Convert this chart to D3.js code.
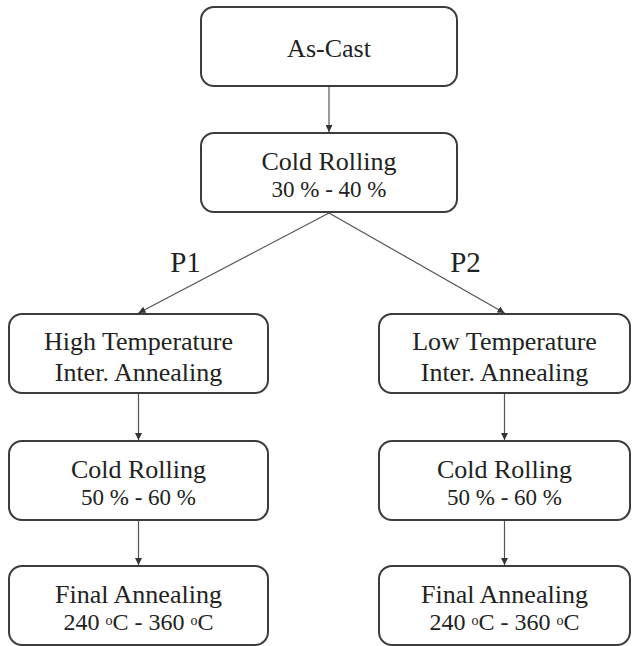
<!DOCTYPE html>
<html>
<head>
<meta charset="utf-8">
<script src="https://cdn.jsdelivr.net/npm/d3@7/dist/d3.min.js"></script>
<style>
  body { margin: 0; background: #fff; }
  svg { display: block; }
</style>
</head>
<body>
<div class="container"></div>
<script>
// svg dimensions
const width = 632;
const height = 646;
const fontName = '"Liberation Serif"';

// flow chart content
const nodeIds = ['cast', 'cr1', 'hta', 'cr2a', 'fa_a', 'lta', 'cr2b', 'fa_b'];
const nodeCols = ['mid', 'mid', 'left', 'left', 'left', 'right', 'right', 'right'];
const nodeRows = [0, 1, 2, 3, 4, 2, 3, 4];
const nodeLines = [
  ['As-Cast'],
  ['Cold Rolling', '30 % - 40 %'],
  ['High Temperature', 'Inter. Annealing'],
  ['Cold Rolling', '50 % - 60 %'],
  ['Final Annealing', '240 \u00baC - 360 \u00baC'],
  ['Low Temperature', 'Inter. Annealing'],
  ['Cold Rolling', '50 % - 60 %'],
  ['Final Annealing', '240 \u00baC - 360 \u00baC']
];
const linkFrom = ['cast', 'cr1', 'cr1', 'hta', 'cr2a', 'lta', 'cr2b'];
const linkTo   = ['cr1', 'hta', 'lta', 'cr2a', 'fa_a', 'cr2b', 'fa_b'];
const pathLabels = ['P1', 'P2'];
const pathCols = ['left', 'right'];

const boxH = 79;

// layout scales
const xScale = d3.scaleOrdinal().domain(['left', 'mid', 'right']).range([138.5, 329, 504.5]);
const wScale = d3.scaleOrdinal().domain(['left', 'mid', 'right']).range([259, 256, 251]);
const yScale = d3.scaleOrdinal().domain([0, 1, 2, 3, 4]).range([7, 133, 314, 441, 566]);

const nodes = nodeIds.map((id, i) => ({
  id: id,
  cx: xScale(nodeCols[i]),
  w: wScale(nodeCols[i]),
  y: yScale(nodeRows[i]),
  lines: nodeLines[i]
}));
const byId = {};
nodes.forEach(n => { byId[n.id] = n; });

const svg = d3.select('.container')
  .append('svg')
  .attr('width', width)
  .attr('height', height);

svg.append('defs').append('marker')
  .attr('id', 'arrow')
  .attr('viewBox', '0 0 10 10')
  .attr('refX', 10)
  .attr('refY', 5)
  .attr('markerWidth', 7)
  .attr('markerHeight', 7)
  .attr('markerUnits', 'userSpaceOnUse')
  .attr('orient', 'auto')
  .append('path')
  .attr('d', 'M0,0 L10,5 L0,10 z')
  .attr('fill', '#333');

// connectors
svg.selectAll('line.link')
  .data(linkFrom.map((f, i) => ({ s: byId[f], t: byId[linkTo[i]] })))
  .enter()
  .append('line')
  .attr('class', 'link')
  .attr('x1', d => d.s.cx)
  .attr('y1', d => d.s.y + boxH + 1)
  .attr('x2', d => d.t.cx)
  .attr('y2', d => d.t.y - 1)
  .attr('stroke', '#555')
  .attr('stroke-width', 1.2)
  .attr('marker-end', 'url(#arrow)');

// P1 / P2 labels
svg.selectAll('text.plabel')
  .data(pathLabels)
  .enter()
  .append('text')
  .attr('class', 'plabel')
  .attr('x', (d, i) => xScale(pathCols[i]) + (i === 0 ? 47 : -39))
  .attr('y', 272)
  .attr('text-anchor', 'middle')
  .attr('font-size', 29)
  .style('font-family', fontName)
  .attr('fill', '#222')
  .text(d => d);

// boxes
const box = svg.selectAll('g.node')
  .data(nodes)
  .enter()
  .append('g')
  .attr('class', 'node');

box.append('rect')
  .attr('x', d => d.cx - d.w / 2)
  .attr('y', d => d.y)
  .attr('width', d => d.w)
  .attr('height', boxH)
  .attr('rx', 13)
  .attr('ry', 13)
  .attr('fill', '#fff')
  .attr('stroke', '#3c3c3c')
  .attr('stroke-width', 2);

box.each(function(d) {
  const g = d3.select(this);
  const midY = d.y + boxH / 2;
  const two = d.lines.length > 1;
  // second line with numbers is set a bit smaller
  const numeric = two && /\d/.test(d.lines[1]);
  const isTemp = two && d.lines[1].indexOf('\u00ba') >= 0;
  d.lines.forEach((line, k) => {
    const t = g.append('text')
      .attr('x', d.cx)
      .attr('text-anchor', 'middle')
      .style('font-family', fontName)
      .attr('fill', '#222');
    if (!two) {
      t.attr('y', midY + 10).attr('font-size', 26).text(line);
      return;
    }
    let size = 26, y;
    if (k === 0) {
      y = numeric ? midY - 3 : midY - 3.5;
    } else {
      size = numeric ? (isTemp ? 24 : 23) : 26;
      y = numeric ? midY + 24.5 : midY + 27.5;
    }
    t.attr('y', y).attr('font-size', size);
    if (line.indexOf('\u00ba') >= 0) {
      const parts = line.split('\u00ba');
      parts.forEach((p, j) => {
        const sp = t.append('tspan').text(p);
        if (j > 0) sp.attr('dy', 5);
        if (j < parts.length - 1) {
          t.append('tspan').attr('font-size', 14).attr('dy', -5).text('o');
        }
      });
    } else {
      t.text(line);
    }
  });
});
</script>
</body>
</html>
